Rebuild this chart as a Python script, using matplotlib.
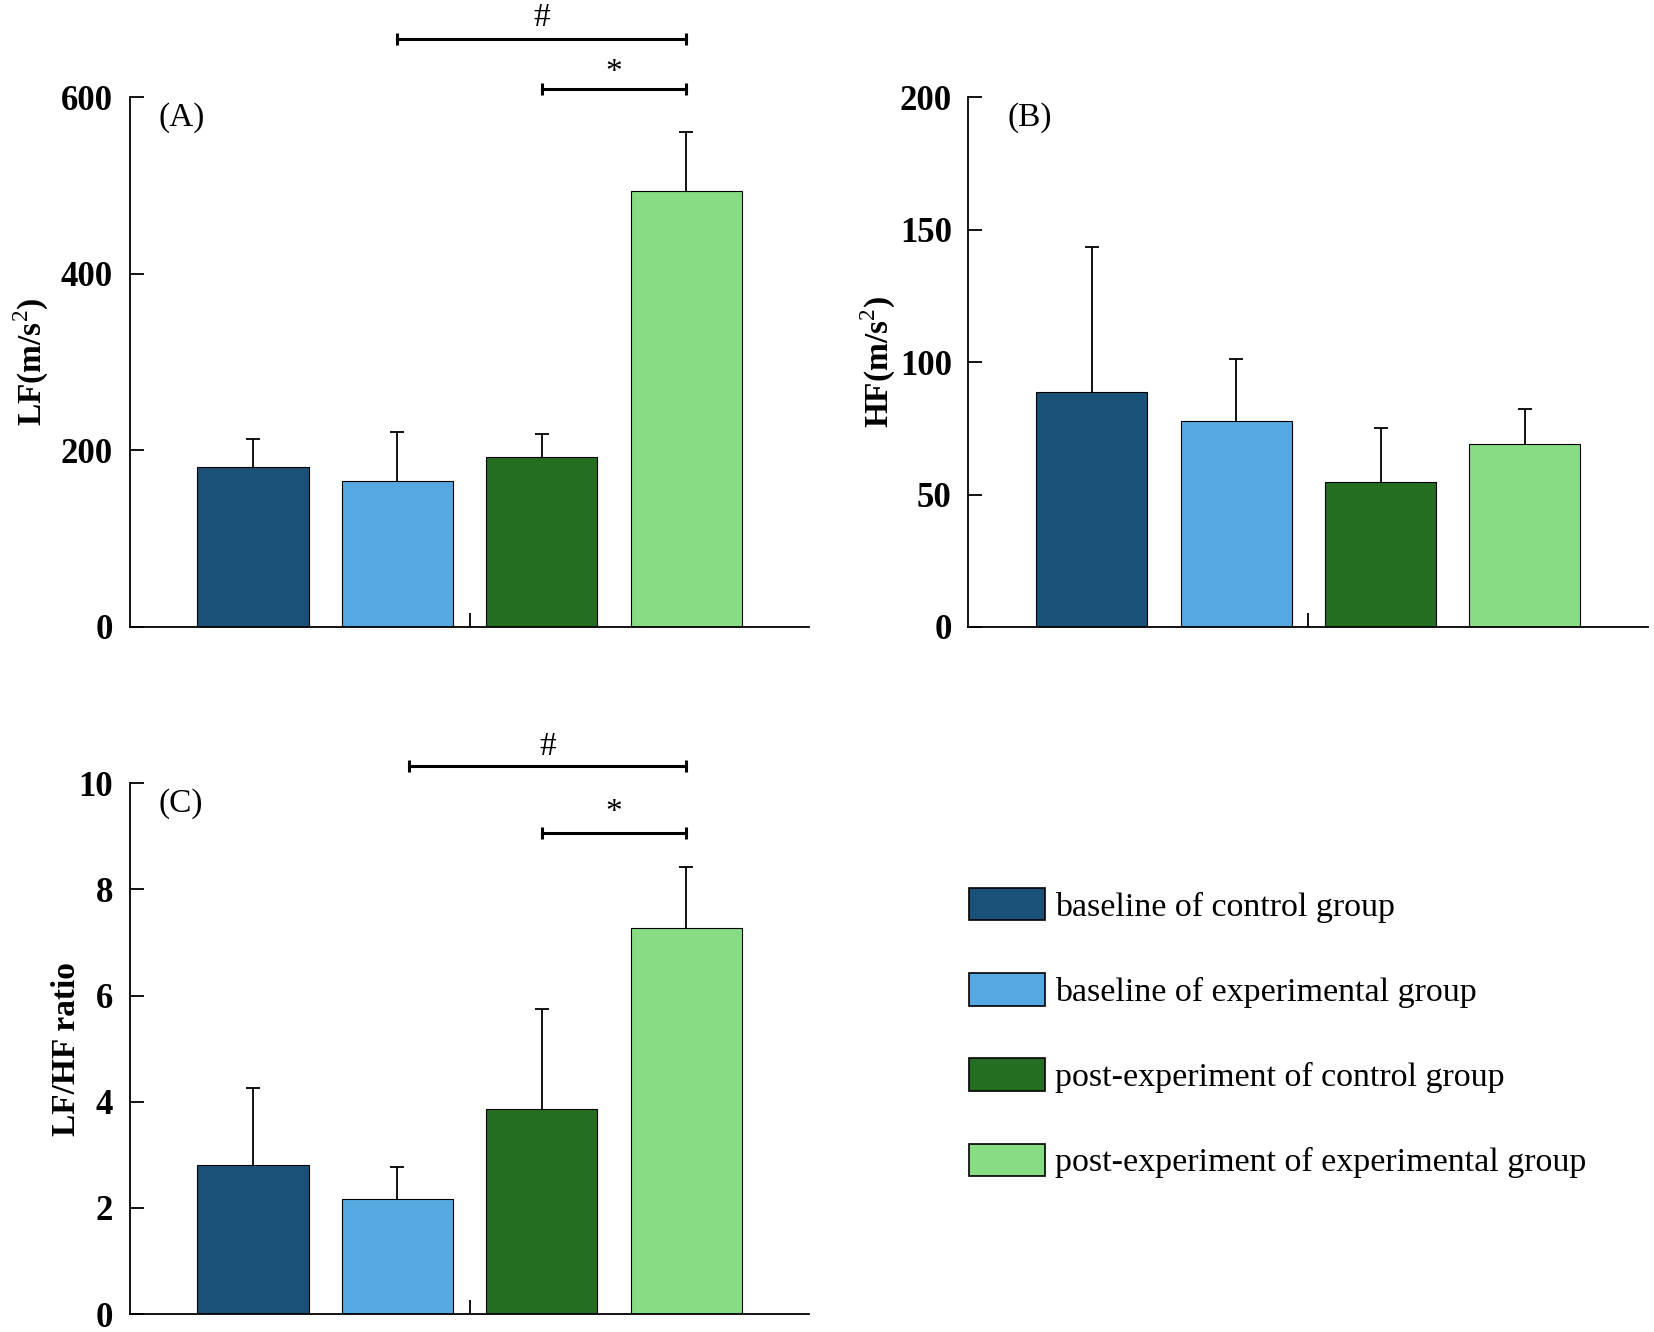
import matplotlib
matplotlib.use("Agg")
import matplotlib.pyplot as plt
import numpy as np

plt.rcParams['font.family'] = ['Liberation Serif', 'DejaVu Serif']
plt.rcParams['mathtext.fontset'] = 'custom'
plt.rcParams['mathtext.rm'] = 'Liberation Serif'
plt.rcParams['mathtext.bf'] = 'Liberation Serif:bold'

groups = ['baseline of control group', 'baseline of experimental group',
          'post-experiment of control group', 'post-experiment of experimental group']
colors = ['#1a5178', '#56a8e0', '#236e20', '#88dc84']

lf_mean = [181, 165, 192, 494]
lf_err = [32, 56, 26, 67]
hf_mean = [88.6, 77.8, 54.7, 69.2]
hf_err = [54.9, 23.4, 20.3, 13.0]
ratio_mean = [2.80, 2.17, 3.87, 7.28]
ratio_err = [1.45, 0.60, 1.87, 1.15]

x = np.arange(4)
fs = 24


def draw_panel(ax, means, errs, ymax, yticks, ylabel, tag, tag_x, label_x):
    means = np.array(means)
    tops = means + np.array(errs)
    # upper error bars only, no cap at the bar top
    ax.vlines(x, means, tops, color='black', lw=1.3, zorder=1)
    ax.plot(x, tops, ls='none', marker='_', markersize=10, mew=1.3,
            color='black', zorder=1)
    bars = ax.bar(x, means, width=0.77, color=colors, edgecolor='black',
                  linewidth=0.8, zorder=2)
    ax.set_xlim(-0.854, 3.854)
    ax.set_ylim(0, ymax)
    ax.set_yticks(yticks)
    ax.set_yticklabels([str(t) for t in yticks], fontweight='bold', fontsize=25)
    ax.set_xticks([1.5])
    ax.set_xticklabels([])
    ax.tick_params(axis='both', direction='in', length=10, width=1.3, pad=12)
    for s in ['top', 'right']:
        ax.spines[s].set_visible(False)
    for s in ['left', 'bottom']:
        ax.spines[s].set_linewidth(1.3)
    ax.set_ylabel(ylabel, fontsize=fs, fontweight='bold')
    ax.yaxis.set_label_coords(label_x, 0.5)
    ax.text(tag_x, 0.99, tag, transform=ax.transAxes, fontsize=fs,
            ha='left', va='top')
    return bars


def bracket(ax, x0, x1, y, sym, ty):
    ax.plot([x0, x1], [y, y], color='black', lw=2.2, clip_on=False)
    ax.plot([x0, x1], [y, y], ls='none', marker='|', markersize=8,
            mew=2.2, color='black', clip_on=False)
    ax.text((x0 + x1) / 2, ty, sym, fontsize=fs, ha='center', va='center',
            clip_on=False)


fig = plt.figure(figsize=(16.54, 13.32), dpi=100)
ax_a = fig.add_axes([0.0784, 0.5293, 0.411, 0.3978])
ax_b = fig.add_axes([0.5855, 0.5293, 0.411, 0.3978])
ax_c = fig.add_axes([0.0784, 0.0135, 0.411, 0.3985])

draw_panel(ax_a, lf_mean, lf_err, 600, [0, 200, 400, 600],
           r'LF(m/s$^{2}$)', '(A)', 0.042, -0.116)
draw_panel(ax_b, hf_mean, hf_err, 200, [0, 50, 100, 150, 200],
           r'HF(m/s$^{2}$)', '(B)', 0.057, -0.104)
draw_panel(ax_c, ratio_mean, ratio_err, 10, [0, 2, 4, 6, 8, 10],
           'LF/HF ratio', '(C)', 0.042, -0.070)

bracket(ax_a, 1.0, 3.0, 666, '#', 690)
bracket(ax_a, 2.0, 3.0, 609, '*', 628)
bracket(ax_c, 1.08, 3.0, 10.33, '#', 10.68)
bracket(ax_c, 2.0, 3.0, 9.06, '*', 9.45)

handles = [plt.Rectangle((0, 0), 1, 1, facecolor=c, edgecolor='black', linewidth=1.2)
           for c in colors]
fig.legend(handles, groups, loc='upper left', bbox_to_anchor=(0.5858, 0.3333),
           frameon=False, fontsize=24.5, borderpad=0, borderaxespad=0,
           handlelength=2.23, handleheight=1.09, handletextpad=0.3,
           labelspacing=1.48)

fig.savefig('out.png', dpi=100)
